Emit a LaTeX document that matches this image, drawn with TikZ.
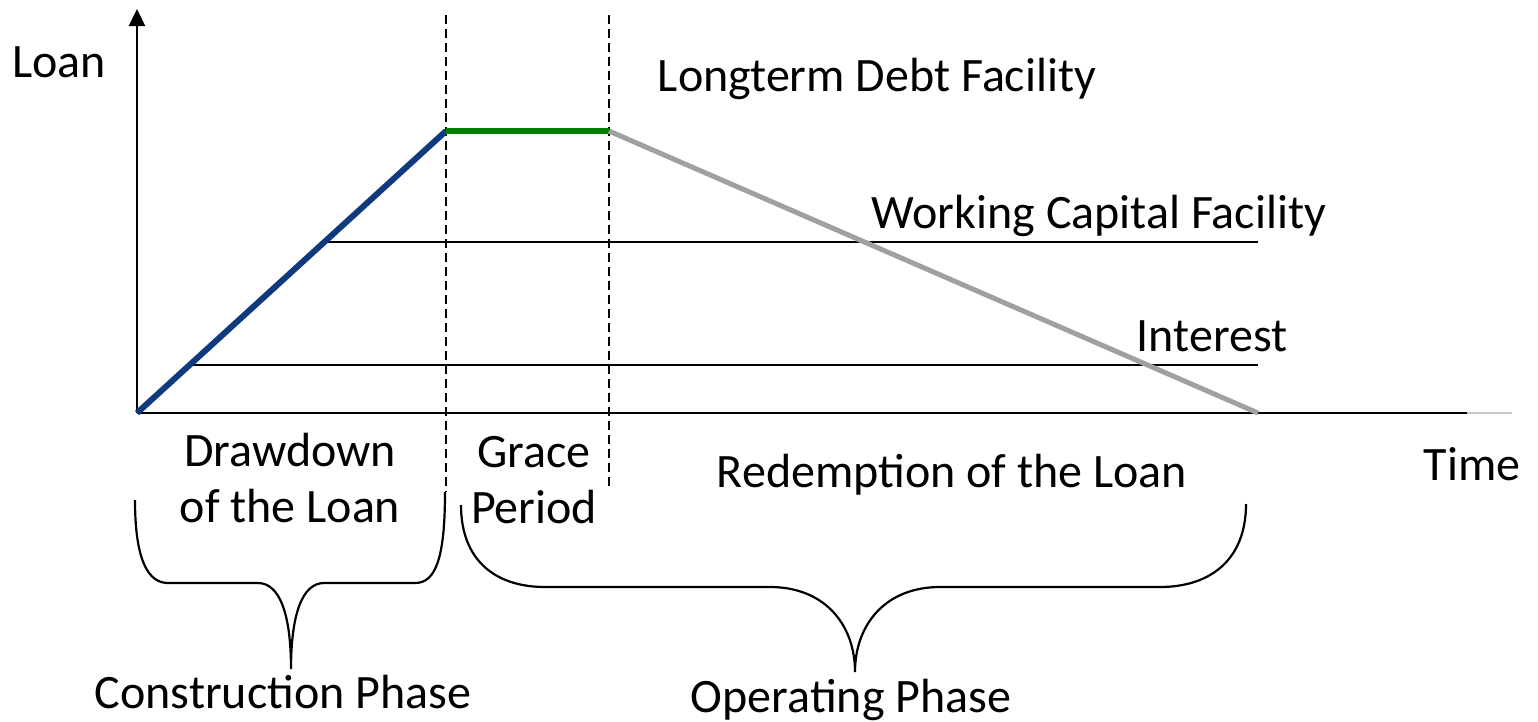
\documentclass[tikz,border=0pt]{standalone}
\usepackage{fontspec}
\setmainfont{Carlito}
\usetikzlibrary{arrows.meta}
\definecolor{loanblue}{RGB}{15,58,125}
\definecolor{loangreen}{RGB}{0,128,0}
\definecolor{loangray}{RGB}{160,160,160}
\definecolor{axisfade}{RGB}{200,200,200}
\tikzset{
  lbl/.style={inner sep=0pt, anchor=base, font=\fontsize{48}{56}\selectfont, align=center},
  axisline/.style={line width=2.4pt, black},
  phase/.style={line width=2pt, dash pattern=on 9pt off 5pt},
  level/.style={line width=1.8pt, black},
  bracestyle/.style={line width=2.2pt, black},
}
\begin{document}
\begin{tikzpicture}[x=1pt,y=-1pt]
\useasboundingbox (0,0) rectangle (1538,721);
% key points
\coordinate (O) at (137,413);
\coordinate (Ytop) at (137,9);
\coordinate (Xend) at (1467,413);
\coordinate (Xfade) at (1512,413);
\coordinate (P1) at (446,131);
\coordinate (P2) at (609,131);
\coordinate (P3) at (1258,413);
\coordinate (D1top) at (446,15);
\coordinate (D1bot) at (446,492);
\coordinate (D2top) at (609,15);
\coordinate (D2bot) at (609,488);
\coordinate (W1) at (327,242);
\coordinate (W2) at (1258,242);
\coordinate (I1) at (193,365);
\coordinate (I2) at (1258,365);
% axes
\draw[axisline, -{Triangle[length=17pt,width=16pt]}] (O) -- (Ytop);
\draw[axisline] (O) -- (Xend);
\draw[line width=1.2pt, axisfade] (Xend) -- (Xfade);
% dashed phase lines
\draw[phase] (D1top) -- (D1bot);
\draw[phase] (D2top) -- (D2bot);
% levels
\draw[level] (W1) -- (W2);
\draw[level] (I1) -- (I2);
% loan profile
\draw[line width=6pt, loanblue] (O) -- (P1);
\draw[line width=6pt, loangreen] (P1) -- (P2);
\draw[line width=5pt, loangray] (P2) -- (P3);
% braces
\coordinate (B1l) at (135,500);
\coordinate (B1tip) at (291,669);
\coordinate (B1r) at (445,492);
\draw[bracestyle] (B1l) .. controls (135,560) and (148,583) .. (168,583)
  -- (258,583) .. controls (280,583) and (291,615) .. (B1tip)
  .. controls (291,615) and (302,583) .. (324,583)
  -- (415,583) .. controls (435,583) and (445,560) .. (B1r);
\coordinate (B2l) at (461,505);
\coordinate (B2tip) at (855,672);
\coordinate (B2r) at (1246,504);
\draw[bracestyle] (B2l) .. controls (461,560) and (495,587) .. (545,587)
  -- (770,587) .. controls (825,587) and (855,625) .. (B2tip)
  .. controls (855,625) and (885,587) .. (940,587)
  -- (1160,587) .. controls (1210,587) and (1246,560) .. (B2r);
% labels
\node[lbl] (loan) at (59,77) {Loan};
\node[lbl] (time) at (1472,480) {Time};
\node[lbl] (ltd) at (877,91) {Longterm Debt Facility};
\node[lbl] (wcf) at (1099,228) {Working Capital Facility};
\node[lbl] (int) at (1212,351) {Interest};
\node[lbl] (draw) at (290,522) {Drawdown\\of the Loan};
\node[lbl] (grace) at (534,523) {Grace\\Period};
\node[lbl] (red) at (952,487) {Redemption of the Loan};
\node[lbl] (cons) at (283,708) {Construction Phase};
\node[lbl] (oper) at (851,712) {Operating Phase};
\end{tikzpicture}
\end{document}
